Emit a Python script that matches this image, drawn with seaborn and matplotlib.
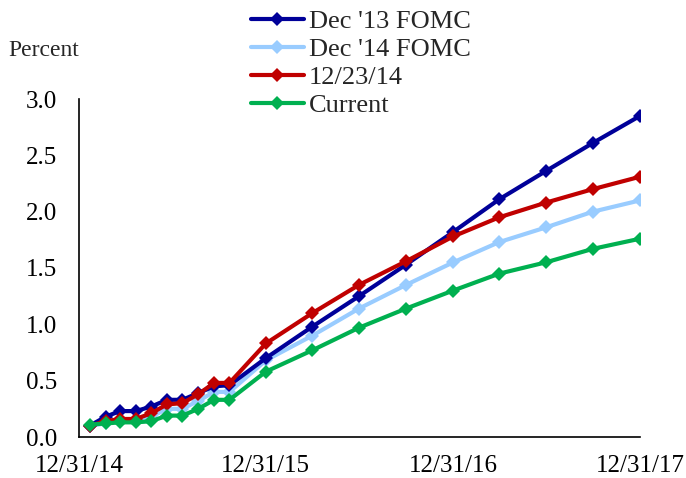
import pandas as pd
import numpy as np
import matplotlib.pyplot as plt
import seaborn as sns

# ---------------------------------------------------------------
# Data
# ---------------------------------------------------------------
dates = pd.to_datetime([
    '2015-01-21', '2015-02-21', '2015-03-21', '2015-04-21', '2015-05-21',
    '2015-06-21', '2015-07-21', '2015-08-21', '2015-09-21', '2015-10-21',
    '2015-12-31', '2016-03-31', '2016-06-30', '2016-09-30', '2016-12-31',
    '2017-03-31', '2017-06-30', '2017-09-30', '2017-12-31',
])

dec13_fomc = [0.10, 0.18, 0.23, 0.23, 0.27, 0.33, 0.33, 0.39, 0.45, 0.46,
              0.70, 0.98, 1.25, 1.53, 1.82, 2.11, 2.36, 2.61, 2.85]
dec14_fomc = [0.10, 0.12, 0.15, 0.15, 0.18, 0.25, 0.25, 0.32, 0.40, 0.40,
              0.68, 0.90, 1.14, 1.35, 1.55, 1.73, 1.86, 2.00, 2.10]
dec23_14 = [0.10, 0.14, 0.16, 0.16, 0.21, 0.29, 0.30, 0.38, 0.48, 0.48,
            0.83, 1.10, 1.35, 1.56, 1.78, 1.95, 2.08, 2.20, 2.31]
current = [0.11, 0.12, 0.13, 0.13, 0.14, 0.19, 0.19, 0.25, 0.33, 0.33,
           0.58, 0.77, 0.97, 1.14, 1.30, 1.45, 1.55, 1.67, 1.76]

series_names = ["Dec '13 FOMC", "Dec '14 FOMC", '12/23/14', 'Current']
series_values = [dec13_fomc, dec14_fomc, dec23_14, current]
colors = ['#000099', '#99CCFF', '#C00000', '#00B050']

tick_dates = pd.to_datetime(['2014-12-31', '2015-12-31', '2016-12-31', '2017-12-31'])
tick_labels = ['12/31/14', '12/31/15', '12/31/16', '12/31/17']

# ---------------------------------------------------------------
# Plot
# ---------------------------------------------------------------
sns.set_style('white')
plt.rcParams['font.family'] = ['Liberation Serif', 'DejaVu Serif']

fig = plt.figure(figsize=(6.86, 4.78), dpi=100)
ax = fig.add_axes([79 / 686, 1 - 437 / 478, (640 - 79) / 686, (437 - 99) / 478])

# draw back to front so the later series sit on top like the reference
draw_order = [1, 0, 2, 3]
for i in draw_order:
    df = pd.DataFrame({'date': dates, 'rate': series_values[i]})
    sns.lineplot(data=df, x='date', y='rate', ax=ax, color=colors[i],
                 label=series_names[i], linewidth=3.0, marker='D',
                 markersize=7, markeredgewidth=0)

# Axis formatting
ax.set_xlim(tick_dates[0], tick_dates[-1])
ax.set_ylim(0, 3.0)
ax.set_xticks(tick_dates)
ax.set_xticklabels(tick_labels)
ax.set_yticks(np.arange(0, 3.01, 0.5))
ax.yaxis.set_major_formatter(plt.FormatStrFormatter('%.1f'))
ax.set_xlabel('')
ax.set_ylabel('')
ax.tick_params(axis='both', direction='in', length=5, width=1.2,
               labelsize=18, colors='black')
ax.tick_params(axis='y', pad=16)
ax.tick_params(axis='x', pad=13)
for side in ['left', 'bottom']:
    ax.spines[side].set_color('black')
    ax.spines[side].set_linewidth(1.2)
sns.despine(ax=ax, top=True, right=True)

# Legend in original series order
handles, labels = ax.get_legend_handles_labels()
lookup = dict(zip(labels, handles))
ax.legend([lookup[n] for n in series_names], series_names,
          loc='upper left', bbox_to_anchor=(251 / 686, 1 - 10 / 478),
          bbox_transform=fig.transFigure, frameon=False, fontsize=19,
          handlelength=2.0, handletextpad=0.2, labelspacing=0.17,
          borderpad=0, borderaxespad=0)

fig.text(8 / 686, 1 - 50 / 478, 'Percent', fontsize=17, va='center', ha='left')

fig.savefig('out.png', dpi=100)
